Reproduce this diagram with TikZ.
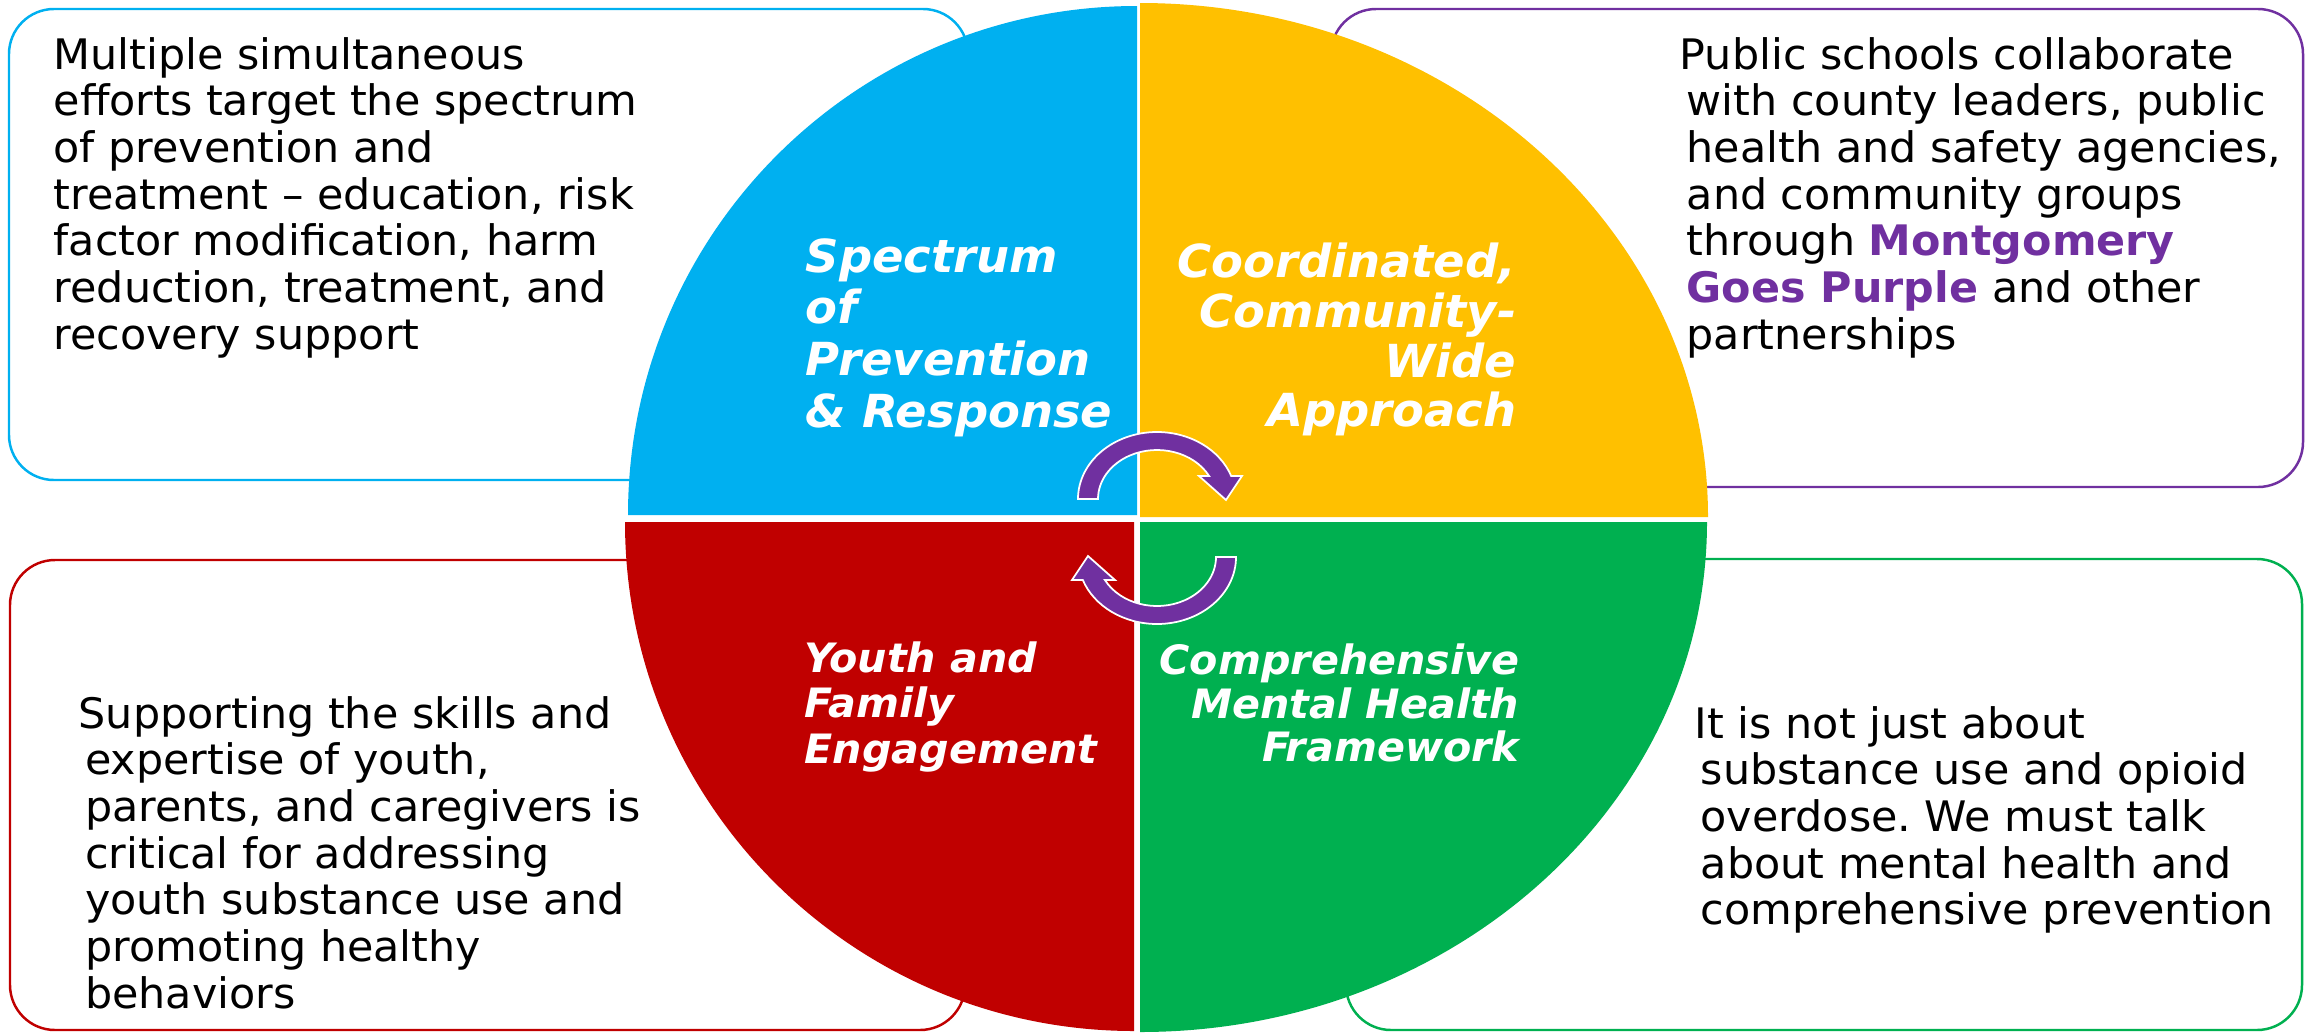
\documentclass[tikz,border=0pt]{standalone}
\usepackage{fontspec}
\setmainfont{DejaVu Sans}[FakeStretch=1.02]
\frenchspacing
\definecolor{qblue}{HTML}{00B0F0}
\definecolor{qyellow}{HTML}{FFC000}
\definecolor{qred}{HTML}{C00000}
\definecolor{qgreen}{HTML}{00B050}
\definecolor{qpurple}{HTML}{7030A0}
\begin{document}
\begin{tikzpicture}[x=0.01cm,y=-0.01cm,
  panel/.style={line width=0.7pt, rounded corners=0.45cm},
  bodytext/.style={font=\fontsize{11.95}{13.3}\selectfont, anchor=base west, inner sep=0pt},
  bigtag/.style={font=\fontsize{12.95}{14.6}\selectfont\bfseries\itshape, text=white, inner sep=0pt},
  smalltag/.style={font=\fontsize{11.5}{13.2}\selectfont\bfseries\itshape, text=white, inner sep=0pt},
  turn/.style={fill=qpurple, draw=white, line width=0.5pt, line join=miter}
]
\fill[white] (0,0) rectangle (2306,1033);
\useasboundingbox (0,0) rectangle (2306,1033);

% rounded text panels behind the disc
\draw[panel, draw=qblue]   (9,9)     rectangle (968,480);
\draw[panel, draw=qpurple] (1331,9)  rectangle (2303,487);
\draw[panel, draw=qred]    (10,560)  rectangle (965,1030);
\draw[panel, draw=qgreen]  (1346,559) rectangle (2302,1030);

% four quadrants of the disc
\fill[qblue]   (1137,515) -- (628,515) arc[start angle=180, end angle=270, radius=509] -- cycle;
\fill[qyellow] (1140,517) -- (1140,3) arc[start angle=270, end angle=360, x radius=568, y radius=514] -- cycle;
\fill[qred]    (1134,522) -- (1134,1031) arc[start angle=90, end angle=180, radius=509] -- cycle;
\fill[qgreen]  (1140,522) -- (1707,522) arc[start angle=0, end angle=90, x radius=567, y radius=510] -- cycle;

% circular arrows in the centre
\filldraw[turn] (1078,499) arc[start angle=180, end angle=340, x radius=79, y radius=67]
  -- (1242,476) -- (1226,500) -- (1199,476)
  -- (1209.1,476) arc[start angle=332, end angle=180, x radius=59, y radius=49] -- cycle;
\filldraw[turn] (1236,557) arc[start angle=0, end angle=160, x radius=79, y radius=67]
  -- (1072,580) -- (1088,556) -- (1115,580)
  -- (1104.9,580) arc[start angle=152, end angle=0, x radius=59, y radius=49] -- cycle;

% quadrant titles
\foreach \rowtext [count=\k] in {Spectrum, of, Prevention, {\& Response}}
  \node[bigtag, anchor=base west] (tagA\k) at (805,{272+51.7*(\k-1)}) {\rowtext};
\foreach \rowtext [count=\k] in {{Coordinated,}, Community-, Wide, Approach}
  \node[bigtag, anchor=base east] (tagB\k) at (1517,{277.5+49.8*(\k-1)}) {\rowtext};
\foreach \rowtext [count=\k] in {{Youth and}, Family, Engagement}
  \node[smalltag, anchor=base west] (tagC\k) at (804,{672+45.5*(\k-1)}) {\rowtext};
\foreach \rowtext [count=\k] in {Comprehensive, {Mental Health}, Framework}
  \node[smalltag, anchor=base east] (tagD\k) at (1520,{674.5+43.5*(\k-1)}) {\rowtext};

% panel texts
\foreach \rowtext [count=\k] in {{Multiple simultaneous},{efforts target the spectrum},{of prevention and},{treatment – education, risk},{factor modification, harm},{reduction, treatment, and},{recovery support}}
  \node[bodytext] (noteA\k) at (53,{69+46.7*(\k-1)}) {\rowtext};
\foreach \rowtext [count=\k] in {{Public schools collaborate},{with county leaders, public},{health and safety agencies,},{and community groups},{through {\bfseries\color{qpurple}Montgomery}},{{\bfseries\color{qpurple}Goes Purple} and other},{partnerships}}
  \node[bodytext] (noteB\k) at ({\k==1 ? 1679 : 1686},{69+46.7*(\k-1)}) {\rowtext};
\foreach \rowtext [count=\k] in {{Supporting the skills and},{expertise of youth,},{parents, and caregivers is},{critical for addressing},{youth substance use and},{promoting healthy},{behaviors}}
  \node[bodytext] (noteC\k) at ({\k==1 ? 78 : 84.5},{728+46.7*(\k-1)}) {\rowtext};
\foreach \rowtext [count=\k] in {{It is not just about},{substance use and opioid},{overdose. We must talk},{about mental health and},{comprehensive prevention}}
  \node[bodytext] (noteD\k) at ({\k==1 ? 1694 : 1700},{738+46.7*(\k-1)}) {\rowtext};
\end{tikzpicture}
\end{document}
